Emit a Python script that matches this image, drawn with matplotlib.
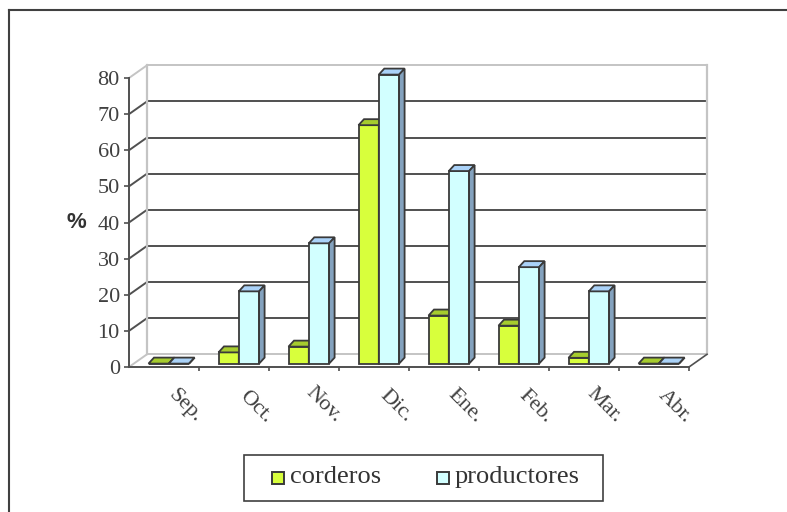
import matplotlib.pyplot as plt
from matplotlib.patches import Polygon, Rectangle
from matplotlib.lines import Line2D

#%% Datos
meses = ['Sep.', 'Oct.', 'Nov.', 'Dic.', 'Ene.', 'Feb.', 'Mar.', 'Abr.']
corderos = [0, 3.1, 4.7, 66, 13.3, 10.5, 1.6, 0]
productores = [0, 20, 33.3, 80, 53.3, 26.7, 20, 0]
series = ['corderos', 'productores']
yticks = [0, 10, 20, 30, 40, 50, 60, 70, 80]

# colores: frente, tapa, lateral
col_cord = ('#d8ff3c', '#a6cc2e', '#8fb020')
col_prod = ('#d2ffff', '#aad2f8', '#84a2be')
borde = '#3a3a3a'
gris_osc = '#505050'
gris_cla = '#c4c4c4'

W, H = 787, 512
fig = plt.figure(figsize=(W / 100, H / 100), dpi=100)
ax = fig.add_axes([129 / W, (H - 367) / H, 560 / W, 289 / H])
ax.set_xlim(0, 8)
ax.set_ylim(0, 80)
px_x = 560 / 8.0
px_y = 289 / 80.0

# profundidad de la pared y de las barras (en unidades de datos)
wdx, wdy = 18 / px_x, 12.7 / px_y
fdx, fdy = 4.8 / px_x, 3.4 / px_y
bdx, bdy = 5.5 / px_x, 6.0 / px_y
bw = 0.29

#%% Paredes y lineas de division
for v in yticks:
    c = gris_cla if v in (0, 80) else gris_osc
    ax.plot([wdx, 8 + wdx], [v + wdy, v + wdy], color=c, lw=1.4, clip_on=False, zorder=1)
    ax.plot([0, wdx], [v, v + wdy], color=c, lw=1.4, clip_on=False, zorder=1)
ax.plot([wdx, wdx], [wdy, 80 + wdy], color=gris_cla, lw=1.6, clip_on=False, zorder=1)
ax.plot([8 + wdx, 8 + wdx], [wdy, 80 + wdy], color=gris_cla, lw=1.6, clip_on=False, zorder=1)
ax.plot([8, 8 + wdx], [0, wdy], color=gris_osc, lw=1.2, clip_on=False, zorder=1)

#%% Barras 3D
def barra(xl, h, cols, z):
    b = ax.bar(xl, h, width=bw, bottom=fdy, align='edge', color=cols[0],
               edgecolor=borde, lw=1.3, zorder=z)
    for r in b:
        r.set_clip_on(False)
    top = [(xl, fdy + h), (xl + bw, fdy + h), (xl + bw + bdx, fdy + h + bdy), (xl + bdx, fdy + h + bdy)]
    side = [(xl + bw, fdy), (xl + bw + bdx, fdy + bdy), (xl + bw + bdx, fdy + h + bdy), (xl + bw, fdy + h)]
    ax.add_patch(Polygon(top, closed=True, facecolor=cols[1], edgecolor=borde, lw=1.3,
                         zorder=z, clip_on=False))
    ax.add_patch(Polygon(side, closed=True, facecolor=cols[2], edgecolor=borde, lw=1.3,
                         zorder=z, clip_on=False))

for i in range(len(meses)):
    x0 = i + 0.5 - bw + fdx
    barra(x0, corderos[i], col_cord, 3 + 2 * i)
    barra(x0 + bw, productores[i], col_prod, 4 + 2 * i)

#%% Ejes
for s in ['top', 'right']:
    ax.spines[s].set_visible(False)
for s in ['left', 'bottom']:
    ax.spines[s].set_color(gris_osc)
    ax.spines[s].set_linewidth(1.4)
ax.patch.set_alpha(0)
ax.set_yticks(yticks)
ax.set_yticklabels([str(v) for v in yticks], family='Liberation Serif', fontsize=16, color='#404040')
ax.tick_params(axis='y', length=3.6, width=1.2, color=gris_osc, pad=3)
ax.set_xticks(range(1, 9))
ax.set_xticklabels([])
ax.tick_params(axis='x', length=3.2, width=1.2, color=gris_osc)

for i, m in enumerate(meses):
    ax.text(i + 0.5 + 35 / px_x, -53 / px_y, m, rotation=-45, rotation_mode='anchor',
            ha='right', va='center', family='Liberation Serif', fontsize=16,
            color='#404040', clip_on=False)

fig.text(76 / W, 1 - 222 / H, '%', family='Liberation Sans', fontweight='bold',
         fontsize=16, color='#333333', ha='center', va='center')

#%% Leyenda
fig.add_artist(Rectangle((244 / W, 1 - 501 / H), 359 / W, 46 / H, transform=fig.transFigure,
                         fill=False, edgecolor='#404040', lw=1.2))
for nombre, cols, xm in zip(series, [col_cord, col_prod], [272, 437]):
    fig.add_artist(Rectangle((xm / W, 1 - 484 / H), 12 / W, 12 / H, transform=fig.transFigure,
                             facecolor=cols[0], edgecolor=borde, lw=1.4))
    fig.text((xm + 18) / W, 1 - 477 / H, nombre, family='Liberation Serif', fontsize=19,
             color='#333333', ha='left', va='center')

# marco del grafico
fig.add_artist(Line2D([9 / W, 9 / W], [0, 1 - 10 / H], color='#404040', lw=1.5))
fig.add_artist(Line2D([9 / W, 1], [1 - 10 / H, 1 - 10 / H], color='#404040', lw=1.5))

fig.savefig('out.png', dpi=100)
